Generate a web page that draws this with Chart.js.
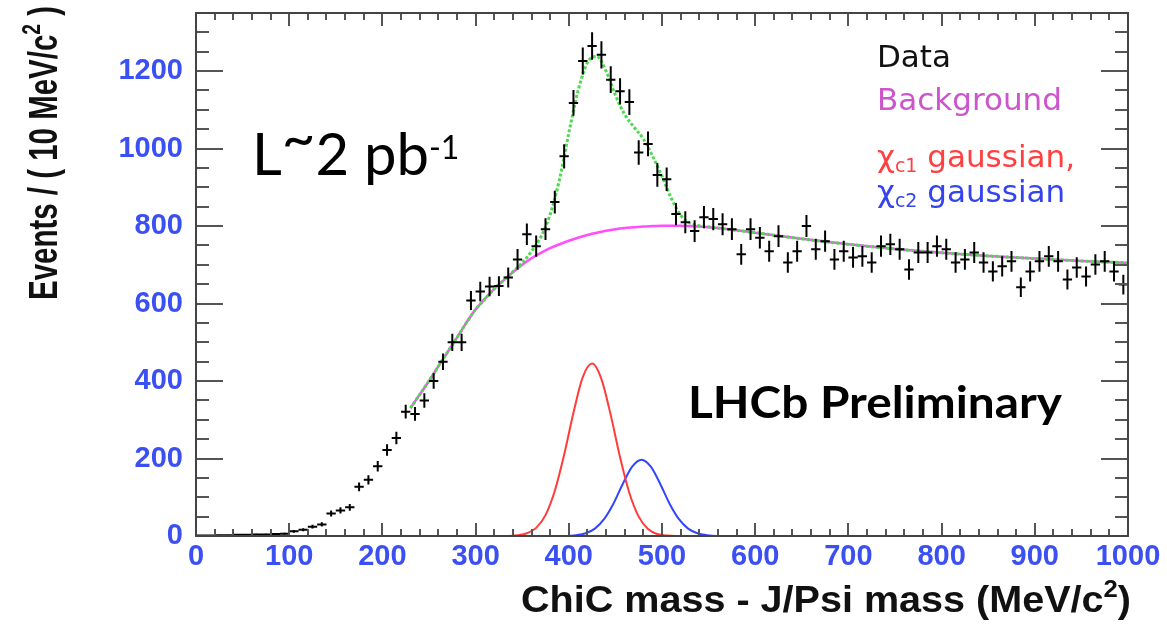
<!DOCTYPE html>
<html>
<head>
<meta charset="utf-8">
<script src="https://cdn.jsdelivr.net/npm/chart.js@4.4.0/dist/chart.umd.min.js"></script>
<style>
  html, body { margin: 0; padding: 0; background: #fff; }
  #wrap { width: 1167px; height: 625px; }
</style>
</head>
<body>
<div id="wrap"><canvas id="myChart"></canvas></div>
<script>
function binCenters() {
  let arr = []
  for (let i = 0; i < 100; i++) {
    arr.push(5 + 10 * i)
  }
  return arr
}

// 10 MeV bins, events per bin
const massBins = binCenters()
const counts = [
  1, 1, 2, 2, 3, 3, 4, 4, 5, 6,
  12, 16, 24, 30, 58, 66, 74, 127, 145, 180,
  222, 253, 321, 315, 350, 400, 450, 500, 500, 608,
  631, 644, 645, 667, 714, 779, 748, 792, 862, 980,
  1118, 1226, 1265, 1242, 1178, 1148, 1120, 990, 1012, 932,
  921, 831, 810, 787, 823, 818, 805, 792, 727, 792,
  770, 735, 774, 706, 735, 800, 740, 761, 714, 735,
  719, 722, 706, 748, 753, 740, 688, 732, 732, 748,
  740, 706, 714, 732, 706, 683, 696, 709, 642, 683,
  709, 722, 709, 662, 693, 670, 701, 709, 683, 649
]

// fit curves
const fitMass = [230, 240, 250, 260, 270, 280, 290, 300, 310, 320,
  330, 340, 350, 360, 370, 380, 390, 400, 410, 420,
  430, 440, 450, 460, 470, 480, 490, 500, 510, 520,
  530, 540, 550, 560, 580, 600, 650, 700, 750, 800,
  850, 900, 950, 1000]
const totalFit = [330, 365, 400, 438, 475, 512, 550, 585, 612, 638,
  660, 682, 705, 735, 772, 830, 920, 1040, 1150, 1222,
  1238, 1200, 1138, 1088, 1055, 1025, 980, 928, 872, 828,
  808, 801, 798, 795, 789, 783, 767, 753, 741, 731,
  723, 716, 710, 705]
const bkgFit = [330, 365, 400, 438, 475, 512, 550, 585, 612, 638,
  660, 681, 700, 717, 731, 743, 753, 762, 770, 777,
  783, 788, 792, 795, 797, 799, 800, 801, 801, 801,
  800, 799, 797, 795, 789, 783, 767, 753, 741, 731,
  723, 716, 710, 705]

const chic1Mass = [110, 335, 345, 355, 365, 375, 385, 395, 405, 415, 425, 435, 445, 455, 465, 475, 485, 495, 505, 515, 1000]
const chic1Fit = [0, 0, 2, 7, 21, 54, 117, 210, 318, 410, 445, 405, 312, 203, 111, 50, 18, 5, 1, 0, 0]
const chic2Mass = [110, 398, 408, 418, 428, 438, 448, 458, 468, 478, 488, 498, 508, 518, 528, 538, 548, 558, 1000]
const chic2Fit = [0, 0, 2, 7, 19, 44, 84, 135, 179, 197, 179, 135, 84, 44, 19, 7, 2, 0, 0]

const blueLabel = '#3b50f2'

function pairs(xs, ys) {
  return xs.map((x, i) => ({ x: x, y: ys[i] }))
}

// poisson error bars drawn as broken line segments
let errV = []
let errH = []
massBins.forEach((m, i) => {
  const e = Math.sqrt(counts[i])
  errV.push({ x: m, y: counts[i] - e }, { x: m, y: counts[i] + e }, { x: m, y: null })
  errH.push({ x: m - 5, y: counts[i] }, { x: m + 5, y: counts[i] }, { x: m + 5, y: null })
})

const data = {
  datasets: [
    {
      label: 'Data',
      data: errV,
      borderColor: '#000',
      borderWidth: 2,
      pointRadius: 0,
      tension: 0,
      spanGaps: false,
      order: 0,
    },
    {
      label: 'Data bins',
      data: errH,
      borderColor: '#000',
      borderWidth: 2,
      pointRadius: 0,
      tension: 0,
      spanGaps: false,
      order: 0,
    },
    {
      label: 'Total',
      data: pairs(fitMass, totalFit),
      borderColor: '#4fd94f',
      borderWidth: 3,
      borderDash: [3, 2],
      pointRadius: 0,
      cubicInterpolationMode: 'monotone',
      order: 1,
    },
    {
      label: 'Background',
      data: pairs(fitMass, bkgFit),
      borderColor: '#ff4dff',
      borderWidth: 2.5,
      pointRadius: 0,
      cubicInterpolationMode: 'monotone',
      order: 2,
    },
    {
      label: 'chi_c1 gaussian',
      data: pairs(chic1Mass, chic1Fit),
      borderColor: '#ff3b3b',
      borderWidth: 2,
      pointRadius: 0,
      cubicInterpolationMode: 'monotone',
      clip: 4,
      order: 3,
    },
    {
      label: 'chi_c2 gaussian',
      data: pairs(chic2Mass, chic2Fit),
      borderColor: '#3344ff',
      borderWidth: 2,
      pointRadius: 0,
      cubicInterpolationMode: 'monotone',
      clip: 4,
      order: 4,
    },
  ],
}

function drawParts(ctx, parts, x, y) {
  // parts: [text, font, color, dy]
  let cx = x
  parts.forEach(p => {
    ctx.font = p[1]
    ctx.fillStyle = p[2]
    ctx.fillText(p[0], cx, y + (p[3] || 0))
    cx += ctx.measureText(p[0]).width
  })
}

function partsWidth(ctx, parts) {
  let w = 0
  parts.forEach(p => {
    ctx.font = p[1]
    w += ctx.measureText(p[0]).width
  })
  return w
}

const decorations = {
  id: 'decorations',
  afterDraw(chart) {
    const ctx = chart.ctx
    const a = chart.chartArea
    const xs = chart.scales.x
    const ys = chart.scales.y
    ctx.save()
    ctx.strokeStyle = '#555'
    ctx.lineWidth = 2
    ctx.beginPath()
    for (let v = 0; v <= 1350; v += 50) {
      const py = Math.round(ys.getPixelForValue(v))
      const len = v % 200 === 0 ? 27 : 13
      ctx.moveTo(a.left, py); ctx.lineTo(a.left + len, py)
      ctx.moveTo(a.right, py); ctx.lineTo(a.right - len, py)
    }
    for (let v = 0; v <= 1000; v += 20) {
      const px = Math.round(xs.getPixelForValue(v))
      const len = v % 100 === 0 ? 13 : 7
      ctx.moveTo(px, a.bottom); ctx.lineTo(px, a.bottom - len)
      ctx.moveTo(px, a.top); ctx.lineTo(px, a.top + len)
    }
    ctx.stroke()
    ctx.strokeStyle = '#444'
    ctx.strokeRect(a.left, a.top, a.right - a.left, a.bottom - a.top)

    ctx.textBaseline = 'alphabetic'
    ctx.textAlign = 'left'

    // y axis title
    const yParts = [
      ['Events / ( 10 MeV/c', 'bold 40px "Liberation Sans"', '#111', 0],
      ['2', 'bold 26px "Liberation Sans"', '#111', -17],
      [' )', 'bold 40px "Liberation Sans"', '#111', 0],
    ]
    const yw = partsWidth(ctx, yParts)
    ctx.save()
    ctx.translate(57, 6)
    ctx.rotate(-Math.PI / 2)
    ctx.scale(294 / yw, 1)
    drawParts(ctx, yParts, -yw, 0)
    ctx.restore()

    // x axis title
    const xParts = [
      ['ChiC mass - J/Psi mass (MeV/c', 'bold 37px "Liberation Sans"', '#111', 0],
      ['2', 'bold 24px "Liberation Sans"', '#111', -15],
      [')', 'bold 37px "Liberation Sans"', '#111', 0],
    ]
    const xw = partsWidth(ctx, xParts)
    ctx.save()
    ctx.translate(1131 - 610, 612)
    ctx.scale(610 / xw, 1)
    drawParts(ctx, xParts, 0, 0)
    ctx.restore()

    // legend text
    const lf = '31px "DejaVu Sans"'
    const sf = '19px "DejaVu Sans"'
    drawParts(ctx, [['Data', lf, '#111', 0]], 877, 67)
    drawParts(ctx, [['Background', lf, '#cc55cc', 0]], 877, 110)
    drawParts(ctx, [['\u03c7', lf, '#ff4040', 0], ['c1', sf, '#ff4040', 5], [' gaussian,', lf, '#ff4040', 0]], 877, 167)
    drawParts(ctx, [['\u03c7', lf, '#3344ee', 0], ['c2', sf, '#3344ee', 5], [' gaussian', lf, '#3344ee', 0]], 877, 202)

    // luminosity
    drawParts(ctx, [['L', '58px Lato', '#000', 0], ['~', '58px Lato', '#000', -16], ['2 pb', '58px Lato', '#000', 0], ['-1', '32px Lato', '#000', -16]], 252, 175)

    // LHCb Preliminary
    const lp = [['LHCb Preliminary', 'bold 44px Lato', '#000', 0]]
    const lw = partsWidth(ctx, lp)
    ctx.save()
    ctx.translate(688, 418)
    ctx.scale(374 / lw, 1)
    drawParts(ctx, lp, 0, 0)
    ctx.restore()

    ctx.restore()
  }
}

const config = {
  type: 'line',
  data: data,
  options: {
    responsive: true,
    maintainAspectRatio: false,
    animation: false,
    events: [],
    layout: {
      padding: { top: 13, right: 39, left: 0, bottom: 0 },
    },
    scales: {
      x: {
        type: 'linear',
        min: 0,
        max: 1000,
        afterFit: s => { s.height = 89; s.paddingLeft = 0; s.paddingRight = 0 },
        grid: { display: false, drawTicks: false },
        border: { display: false },
        ticks: {
          stepSize: 100,
          autoSkip: false,
          maxRotation: 0,
          padding: 4,
          color: blueLabel,
          font: { family: 'Liberation Sans', weight: 'bold', size: 29 },
          callback: v => String(v),
        },
      },
      y: {
        min: 0,
        max: 1350,
        afterFit: s => { s.width = 196; s.paddingTop = 0; s.paddingBottom = 0 },
        grid: { display: false, drawTicks: false },
        border: { display: false },
        ticks: {
          stepSize: 200,
          includeBounds: false,
          padding: 13,
          color: blueLabel,
          font: { family: 'Liberation Sans', weight: 'bold', size: 29 },
          callback: v => String(v),
        },
      },
    },
    plugins: {
      legend: { display: false },
      tooltip: { enabled: false },
    },
  },
  plugins: [decorations],
}

const chart = new Chart(document.getElementById('myChart'), config)
</script>
</body>
</html>
